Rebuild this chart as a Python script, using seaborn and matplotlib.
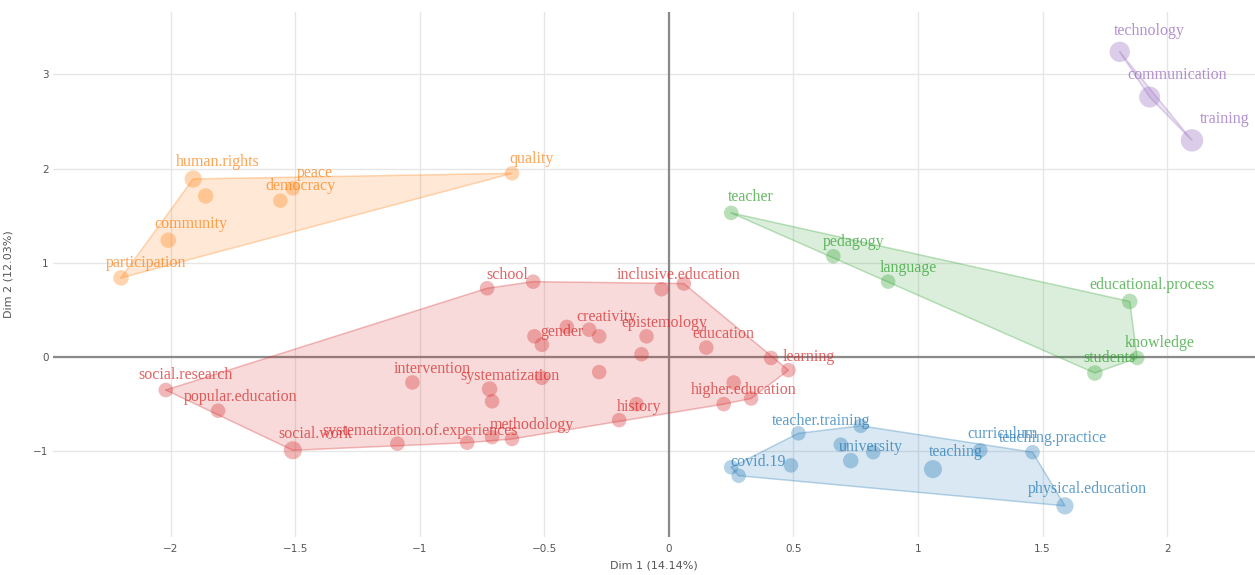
import numpy as np
import pandas as pd
import matplotlib
matplotlib.use("Agg")
import matplotlib.pyplot as plt
import seaborn as sns

# cluster -> words, coordinates (Dim 1, Dim 2), point size, label position
orange_words = ["human.rights", "", "community", "participation", "democracy", "peace", "quality"]
orange_x = [-1.91, -1.86, -2.01, -2.20, -1.56, -1.51, -0.63]
orange_y = [1.89, 1.71, 1.24, 0.84, 1.66, 1.79, 1.95]
orange_size = [1.3, 1.1, 1.1, 1.1, 1.0, 1.0, 1.0]
orange_lx = [-1.81, None, -1.92, -2.10, -1.48, -1.42, -0.55]
orange_ly = [2.07, None, 1.41, 1.00, 1.82, 1.95, 2.10]

red_words = ["social.research", "popular.education", "social.work",
             "systematization.of.experiences", "intervention", "school", "",
             "", "inclusive.education", "gender", "", "creativity", "", "",
             "epistemology", "", "", "systematization", "", "", "history", "",
             "", "methodology", "", "education", "learning", "", "", "higher.education", ""]
red_x = [-2.02, -1.81, -1.51, -1.09, -1.03, -0.73, -0.545,
         -0.03, 0.06, -0.54, -0.51, -0.41, -0.32, -0.28,
         -0.09, -0.11, -0.28, -0.51, -0.72, -0.71, -0.13, -0.20,
         -0.81, -0.71, -0.63, 0.15, 0.41, 0.48, 0.26, 0.22, 0.33]
red_y = [-0.35, -0.57, -0.99, -0.92, -0.27, 0.73, 0.80,
         0.72, 0.78, 0.22, 0.13, 0.32, 0.29, 0.22,
         0.22, 0.03, -0.16, -0.22, -0.34, -0.47, -0.50, -0.67,
         -0.91, -0.85, -0.87, 0.10, -0.01, -0.14, -0.27, -0.50, -0.44]
red_size = [1.0, 1.0, 1.4, 1.0, 1.0, 1.0, 1.0,
            1.0, 1.0, 1.0, 1.0, 1.0, 1.0, 1.0,
            1.0, 1.0, 1.0, 1.0, 1.1, 1.0, 1.0, 1.0,
            1.0, 1.0, 1.0, 1.0, 1.0, 1.0, 1.0, 1.0, 1.0]
red_lx = [-1.94, -1.72, -1.42, -1.00, -0.95, -0.65, None,
          None, 0.04, -0.43, None, -0.25, None, None,
          -0.02, None, None, -0.64, None, None, -0.12, None,
          None, -0.55, None, 0.22, 0.56, None, None, 0.30, None]
red_ly = [-0.19, -0.42, -0.82, -0.78, -0.13, 0.87, None,
          None, 0.87, 0.27, None, 0.42, None, None,
          0.36, None, None, -0.20, None, None, -0.53, None,
          None, -0.72, None, 0.24, 0.00, None, None, -0.35, None]

blue_words = ["covid.19", "", "", "teacher.training", "", "", "university", "",
              "teaching", "curriculum", "teaching.practice", "physical.education"]
blue_x = [0.25, 0.28, 0.49, 0.52, 0.77, 0.69, 0.82, 0.73, 1.06, 1.25, 1.46, 1.59]
blue_y = [-1.17, -1.26, -1.15, -0.81, -0.73, -0.93, -1.01, -1.10, -1.19, -0.99, -1.01, -1.58]
blue_size = [1.0, 1.0, 1.0, 1.0, 1.0, 1.0, 1.0, 1.1, 1.4, 1.0, 1.0, 1.3]
blue_lx = [0.36, None, None, 0.61, None, None, 0.81, None, 1.15, 1.34, 1.54, 1.68]
blue_ly = [-1.11, None, None, -0.68, None, None, -0.95, None, -1.01, -0.82, -0.86, -1.40]

green_words = ["teacher", "pedagogy", "language", "educational.process", "knowledge", "students"]
green_x = [0.25, 0.66, 0.88, 1.85, 1.88, 1.71]
green_y = [1.53, 1.07, 0.80, 0.59, -0.01, -0.17]
green_size = [1.0, 1.0, 1.0, 1.1, 1.0, 1.1]
green_lx = [0.33, 0.74, 0.96, 1.94, 1.97, 1.77]
green_ly = [1.70, 1.22, 0.94, 0.76, 0.15, -0.01]

purple_words = ["technology", "communication", "training"]
purple_x = [1.81, 1.93, 2.10]
purple_y = [3.24, 2.76, 2.30]
purple_size = [1.7, 1.8, 2.0]
purple_lx = [1.93, 2.04, 2.23]
purple_ly = [3.46, 2.99, 2.53]

clusters = ["1", "2", "3", "4", "5"]
palette = {"1": "#ff7f0e", "2": "#d62728", "3": "#1f77b4", "4": "#2ca02c", "5": "#9467bd"}

groups = [
    ("1", orange_words, orange_x, orange_y, orange_size, orange_lx, orange_ly),
    ("2", red_words, red_x, red_y, red_size, red_lx, red_ly),
    ("3", blue_words, blue_x, blue_y, blue_size, blue_lx, blue_ly),
    ("4", green_words, green_x, green_y, green_size, green_lx, green_ly),
    ("5", purple_words, purple_x, purple_y, purple_size, purple_lx, purple_ly),
]

rows = []
for cl, words, xs, ys, ss, lxs, lys in groups:
    for w, x, y, s, lx, ly in zip(words, xs, ys, ss, lxs, lys):
        rows.append({"cluster": cl, "word": w, "x": x, "y": y, "size": s, "lx": lx, "ly": ly})
df = pd.DataFrame(rows)


def convex_hull(pts):
    pts = sorted(set(pts))
    if len(pts) < 3:
        return pts

    def cross(o, a, b):
        return (a[0] - o[0]) * (b[1] - o[1]) - (a[1] - o[1]) * (b[0] - o[0])
    lower, upper = [], []
    for p in pts:
        while len(lower) >= 2 and cross(lower[-2], lower[-1], p) <= 0:
            lower.pop()
        lower.append(p)
    for p in reversed(pts):
        while len(upper) >= 2 and cross(upper[-2], upper[-1], p) <= 0:
            upper.pop()
        upper.append(p)
    return lower[:-1] + upper[:-1]


sns.set_theme(style="whitegrid")
plt.rcParams["font.family"] = ["DejaVu Sans"]

fig = plt.figure(figsize=(12.55, 5.75), dpi=100)
ax = fig.add_axes([0.042, 0.066, 0.958, 0.913])

for cl in clusters:
    sub = df[df["cluster"] == cl]
    hull = convex_hull(list(zip(sub["x"], sub["y"])))
    hx = [p[0] for p in hull]
    hy = [p[1] for p in hull]
    ax.fill(hx, hy, color=palette[cl], alpha=0.17, lw=0, zorder=2)
    ax.plot(hx + [hx[0]], hy + [hy[0]], color=palette[cl], alpha=0.3, lw=1.1, zorder=2)

sns.scatterplot(data=df, x="x", y="y", hue="cluster", size="size", sizes=(110, 260),
                palette=palette, alpha=0.33, edgecolor=None, linewidth=0,
                legend=False, ax=ax, zorder=3)

for _, r in df[df["word"] != ""].iterrows():
    ax.text(r["lx"], r["ly"], r["word"], color=palette[r["cluster"]], alpha=0.72,
            ha="center", va="center", fontsize=11.5, family="Liberation Serif", zorder=4)

ax.axhline(0, color="#8a8a8a", lw=1.6, zorder=1)
ax.axvline(0, color="#8a8a8a", lw=1.6, zorder=1)

ax.set_xlim(-2.474, 2.353)
ax.set_ylim(-1.911, 3.662)
ax.set_xticks([-2, -1.5, -1, -0.5, 0, 0.5, 1, 1.5, 2])
ax.set_xticklabels(["\u22122", "\u22121.5", "\u22121", "\u22120.5", "0", "0.5", "1", "1.5", "2"])
ax.set_yticks([-1, 0, 1, 2, 3])
ax.grid(True, color="#e6e6e6", lw=1)
for s in ax.spines.values():
    s.set_visible(False)
ax.tick_params(axis="both", labelsize=7.5, colors="#555555", length=0, pad=5)
ax.tick_params(axis="y", pad=3)
ax.set_xlabel("Dim 1 (14.14%)", fontsize=8, color="#555555", labelpad=5)
ax.set_ylabel("Dim 2 (12.03%)", fontsize=8, color="#555555", labelpad=14)

fig.savefig("out.png", dpi=100)
